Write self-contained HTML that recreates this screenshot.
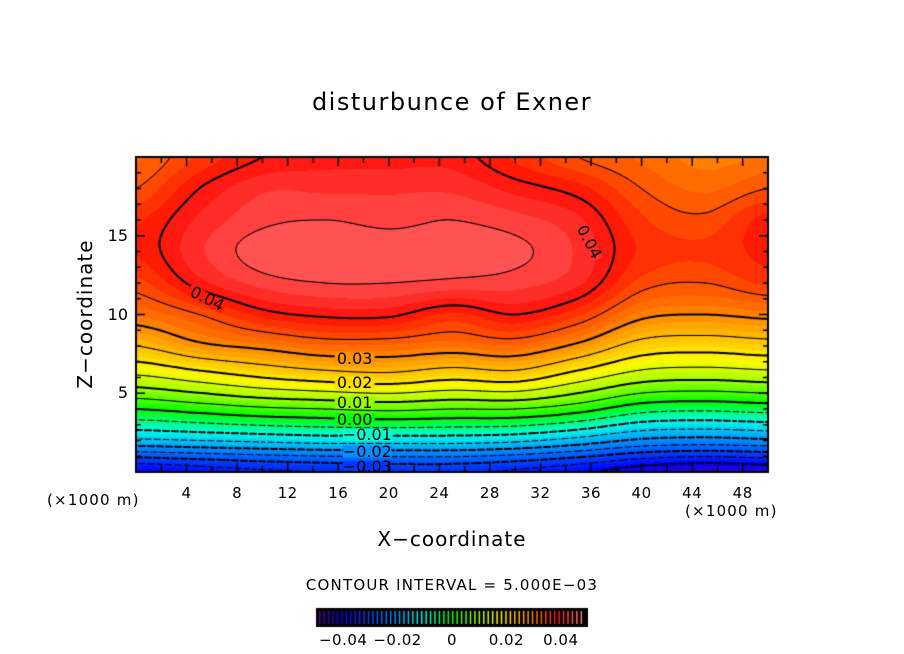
<!DOCTYPE html>
<html><head><meta charset="utf-8">
<style>
html,body{margin:0;padding:0;background:#fff;}
#wrap{position:relative;width:904px;height:654px;overflow:hidden;font-family:"DejaVu Sans","Liberation Sans",sans-serif;}
.t{position:absolute;color:#000;white-space:nowrap;}
canvas{position:absolute;left:0;top:0;}
</style></head>
<body>
<div id="wrap">
<canvas id="cv" width="904" height="654"></canvas>
<div class="t" style="left:0;width:904px;text-align:center;top:88px;font-size:24px;letter-spacing:1.5px;">disturbunce of Exner</div>
<div class="t" style="left:-10px;top:302px;width:190px;text-align:center;font-size:20px;letter-spacing:1px;transform:rotate(-90deg);">Z−coordinate</div>
<div class="t" style="left:0;width:904px;text-align:center;top:527px;font-size:20px;letter-spacing:1px;">X−coordinate</div>
<div class="t" style="left:47px;top:491px;font-size:15px;letter-spacing:1.2px;">(×1000 m)</div>
<div class="t" style="left:685px;top:502px;font-size:15px;letter-spacing:1.2px;">(×1000 m)</div>
<div class="t" style="left:0;width:904px;text-align:center;top:576px;font-size:15px;letter-spacing:1.2px;">CONTOUR INTERVAL = 5.000E−03</div>
</div>
<script>
// ---- data ----
const xNodes = [0,5,10,15,20,25,30,35,40,45,50];
const zNodes = [0,2,4,6,8,10,12,14,16,18,20];
// rows = z nodes, cols = x nodes
const gridValues = [
 [-0.040,-0.038,-0.036,-0.035,-0.034,-0.034,-0.036,-0.039,-0.043,-0.045,-0.044],
 [-0.016,-0.015,-0.014,-0.013,-0.013,-0.013,-0.014,-0.017,-0.021,-0.022,-0.021],
 [ 0.000, 0.002, 0.004, 0.005, 0.006, 0.005, 0.005, 0.002,-0.003,-0.004,-0.003],
 [ 0.014, 0.017, 0.020, 0.022, 0.023, 0.021, 0.022, 0.017, 0.012, 0.011, 0.012],
 [ 0.025, 0.029, 0.031, 0.033, 0.033, 0.032, 0.033, 0.029, 0.023, 0.022, 0.023],
 [ 0.032, 0.035, 0.039, 0.0405,0.0405,0.038, 0.040, 0.037, 0.031, 0.030, 0.031],
 [ 0.036, 0.041, 0.044, 0.045, 0.045, 0.0445,0.044, 0.042, 0.036, 0.035, 0.037],
 [ 0.0385,0.043, 0.046, 0.0465,0.046, 0.046, 0.0455,0.043, 0.038, 0.037, 0.039],
 [ 0.038, 0.042, 0.0445,0.045, 0.0445,0.045, 0.044, 0.042, 0.037, 0.0355,0.039],
 [ 0.035, 0.040, 0.043, 0.043, 0.043, 0.043, 0.041, 0.039, 0.035, 0.033, 0.035],
 [ 0.033, 0.037, 0.040, 0.041, 0.041, 0.041, 0.038, 0.035, 0.033, 0.031, 0.032]
];
const xTicks = [4,8,12,16,20,24,28,32,36,40,44,48];
const zTicks = [5,10,15];
const cbarTicks = [-0.04,-0.02,0,0.02,0.04];
const cbarTickLabels = ["−0.04","−0.02","0","0.02","0.04"];
const contourLabels = [
 {text:"0.03",x:17.3,z:7.2,rot:0},{text:"0.02",x:17.3,z:5.65,rot:0},
 {text:"0.01",x:17.3,z:4.4,rot:0},{text:"0.00",x:17.3,z:3.3,rot:0},
 {text:"−0.01",x:18.3,z:2.35,rot:0},{text:"−0.02",x:18.3,z:1.3,rot:0},
 {text:"−0.03",x:18.3,z:0.3,rot:0},
 {text:"0.04",x:5.6,z:11.0,rot:27},{text:"0.04",x:35.8,z:14.6,rot:62}
];
// ---- geometry ----
const L=136,R=768,T=157,B=472;
const X=x=>L+x*(R-L)/50, Z=z=>B-z*(B-T)/20;
const invX=p=>(p-L)*50/(R-L), invZ=p=>(B-p)*20/(B-T);
function cr(p0,p1,p2,p3,t){return 0.5*((2*p1)+(-p0+p2)*t+(2*p0-5*p1+4*p2-p3)*t*t+(-p0+3*p1-3*p2+p3)*t*t*t);}
function field(x,z){
  const nx=xNodes.length,nz=zNodes.length;
  let fx=Math.min(Math.max(x/5,0),nx-1.0001), fz=Math.min(Math.max(z/2,0),nz-1.0001);
  const i=Math.floor(fx), j=Math.floor(fz), tx=fx-i, tz=fz-j;
  const g=(a,b)=>gridValues[Math.min(Math.max(b,0),nz-1)][Math.min(Math.max(a,0),nx-1)];
  const rows=[];
  for(let b=j-1;b<=j+2;b++) rows.push(cr(g(i-1,b),g(i,b),g(i+1,b),g(i+2,b),tx));
  return cr(rows[0],rows[1],rows[2],rows[3],tz);
}
const stops=[[0,[90,0,150]],[0.1,[0,0,255]],[0.3,[0,150,255]],[0.4,[0,255,230]],[0.5,[0,255,0]],
 [0.6,[160,255,0]],[0.68,[255,250,0]],[0.78,[255,160,0]],[0.86,[255,70,0]],[0.9,[255,15,5]],[0.95,[255,75,75]],[1,[255,125,125]]];
function cmap(t){
  t=Math.min(Math.max(t,0),1);
  for(let k=1;k<stops.length;k++){if(t<=stops[k][0]){const a=stops[k-1],b=stops[k],u=(t-a[0])/(b[0]-a[0]);
    return a[1].map((c,i)=>Math.round(c+(b[1][i]-c)*u));}}
  return stops[stops.length-1][1];
}
function bandColor(v){let k=Math.floor((v+0.05)/0.1*60);k=Math.min(Math.max(k,0),59);return cmap((k+0.5)/60);}
const cv=document.getElementById('cv'),ctx=cv.getContext('2d');
// filled bands
const W=R-L,H=B-T,img=ctx.createImageData(W,H);
for(let py=0;py<H;py++){for(let px=0;px<W;px++){
  const c=bandColor(field(invX(L+px+0.5),invZ(T+py+0.5)));const o=(py*W+px)*4;
  img.data[o]=c[0];img.data[o+1]=c[1];img.data[o+2]=c[2];img.data[o+3]=255;}}
ctx.putImageData(img,L,T);
// contour lines (marching squares)
const S=3,nxg=Math.ceil(W/S),nzg=Math.ceil(H/S),vals=[];
for(let j=0;j<=nzg;j++){vals[j]=[];for(let i=0;i<=nxg;i++)vals[j][i]=field(invX(L+Math.min(i*S,W)),invZ(T+Math.min(j*S,H)));}
ctx.save();ctx.beginPath();ctx.rect(L,T,W,H);ctx.clip();ctx.strokeStyle='#000';ctx.lineCap='round';
for(let k=-9;k<=9;k++){
  const lev=k*0.005;ctx.lineWidth=(k%2===0)?2:1;ctx.beginPath();
  for(let j=0;j<nzg;j++)for(let i=0;i<nxg;i++){
    if(k<0&&((i+j)%3===0))continue;
    const x0=L+i*S,y0=T+j*S,x1=L+Math.min((i+1)*S,W),y1=T+Math.min((j+1)*S,H);
    const a=vals[j][i],b=vals[j][i+1],c=vals[j+1][i+1],d=vals[j+1][i];
    const pts=[];
    const e=(p,q,P,Q)=>{if((p-lev)*(q-lev)<0){const u=(lev-p)/(q-p);pts.push([P[0]+(Q[0]-P[0])*u,P[1]+(Q[1]-P[1])*u]);}};
    e(a,b,[x0,y0],[x1,y0]);e(b,c,[x1,y0],[x1,y1]);e(c,d,[x1,y1],[x0,y1]);e(d,a,[x0,y1],[x0,y0]);
    for(let m=0;m+1<pts.length;m+=2){ctx.moveTo(pts[m][0],pts[m][1]);ctx.lineTo(pts[m+1][0],pts[m+1][1]);}
  }
  ctx.stroke();
}
// label backgrounds (gap in lines)
contourLabels.forEach(o=>{const px=X(o.x),py=Z(o.z);const c=bandColor(field(o.x,o.z));
  ctx.save();ctx.translate(px,py);ctx.rotate(o.rot*Math.PI/180);
  ctx.fillStyle=`rgb(${c[0]},${c[1]},${c[2]})`;const w=o.text.length*9+4;ctx.fillRect(-w/2,-6,w,12);ctx.restore();});
ctx.restore();
// frame & ticks
ctx.strokeStyle='#000';ctx.lineWidth=2;ctx.strokeRect(L,T,W,H);ctx.lineWidth=1.5;ctx.beginPath();
for(let x=1;x<50;x++){const len=(x%4===0)?9:(x%2===0?6:0);if(!len)continue;const p=X(x);ctx.moveTo(p,B);ctx.lineTo(p,B-len);ctx.moveTo(p,T);ctx.lineTo(p,T+len);}
for(let z=1;z<20;z++){const len=(z%5===0)?9:5;const p=Z(z);ctx.moveTo(L,p);ctx.lineTo(L+len,p);ctx.moveTo(R,p);ctx.lineTo(R-len,p);}
ctx.stroke();
// colorbar
const cL=316,cR=588,cT=608,cB=627;
ctx.fillStyle='#000';ctx.fillRect(cL,cT,cR-cL,cB-cT);
for(let n=0;n<60;n++){const t=(n+0.5)/60;const c=cmap(t);ctx.fillStyle=`rgb(${c[0]},${c[1]},${c[2]})`;ctx.fillRect(cL+3+n*(cR-cL-6)/60,cT+3,1.5,cB-cT-6);}
// text
const lab=document.getElementById('wrap');
function addText(txt,x,y,size,name,extra){const d=document.createElement('div');d.className='t';d.textContent=txt;
  d.style.left=x+'px';d.style.top=y+'px';d.style.fontSize=size+'px';if(extra)d.style.cssText+=extra;
  
  
  lab.appendChild(d);return d;}
xTicks.forEach(v=>{addText(String(v),X(v)-20,484,15,'x-tick-label','width:40px;text-align:center;letter-spacing:0.5px;');});
zTicks.forEach(v=>{addText(String(v),88,Z(v)-10,16,'z-tick-label','width:40px;text-align:right;');});
cbarTicks.forEach((v,i)=>{const p=(cL+cR)/2+v/0.05*(cR-cL)/2;addText(cbarTickLabels[i],p-30,631,15,'colorbar-tick-label','width:60px;text-align:center;letter-spacing:0.5px;');});
contourLabels.forEach(o=>{const px=X(o.x),py=Z(o.z);
  addText(o.text,px-28,py-10,16,'contour-label',`width:56px;text-align:center;line-height:20px;transform:rotate(${o.rot}deg);`);});
</script>
</body></html>
